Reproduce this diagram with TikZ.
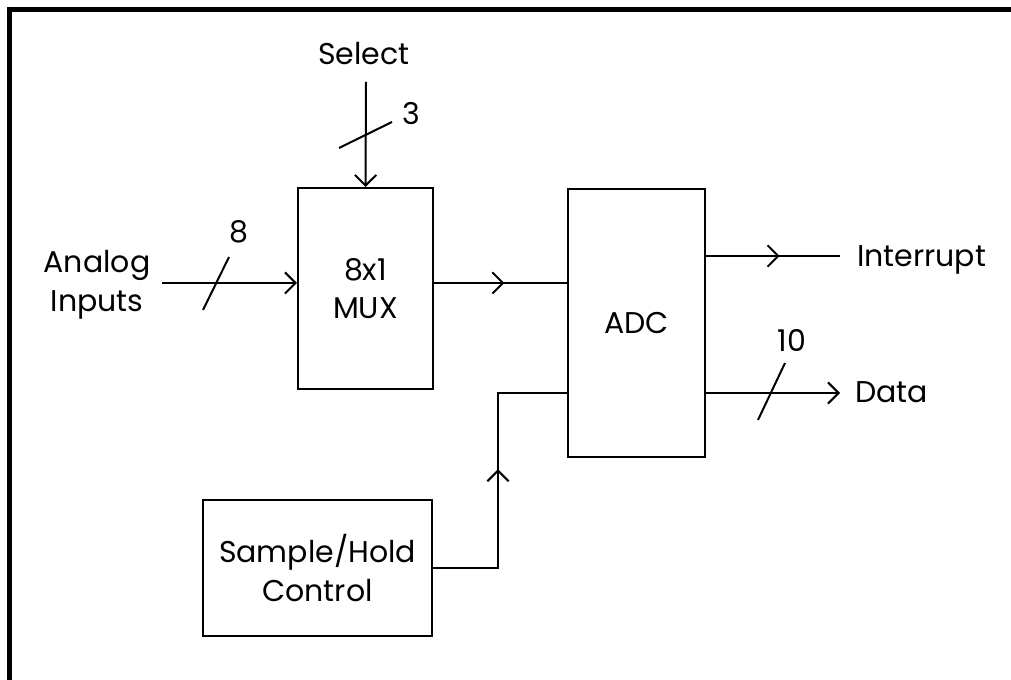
\documentclass[tikz,border=0pt]{standalone}
\usepackage{fontspec}
\setmainfont{Poppins}
\usetikzlibrary{arrows.meta,decorations.markings}

\begin{document}
\begin{tikzpicture}[
  x=0.75pt, y=-0.75pt,
  every node/.style={font=\fontsize{22.5}{29}\selectfont, inner sep=0pt, align=center},
  box/.style={draw, line width=1.5pt},
  wire/.style={line width=1.5pt},
  bus/.style={line width=1.5pt},
  >={Straight Barb[length=8pt, width=16pt]},
  mid arrow/.style={postaction={decorate},
    decoration={markings, mark=at position #1 with {\arrow{>}}}}
]
\useasboundingbox (0,0) rectangle (1011,680);

% frame
\draw[line width=3.75pt] (9.5,680) -- (9.5,9.5) -- (1011,9.5);

% blocks
\node[box, minimum width=101.25pt, minimum height=150.75pt] (mux) at (365.5,288.5) {8x1\\MUX};
\node[box, minimum width=102.75pt, minimum height=201pt] (adc) at (636.5,323) {ADC};
\node[box, minimum width=171.75pt, minimum height=102pt] (sh) at (317.5,568) {Sample/Hold\\Control};

% signal names
\node[anchor=base] (sel) at (364,65) {Select};
\node (ain) at (97,285) {Analog\\Inputs};
\node[anchor=base west] (irq) at (857,267) {Interrupt};
\node[anchor=base west] (data) at (855,403) {Data};

% line ends
\coordinate (selin) at (366,82);
\coordinate (ainout) at (162,283);
\coordinate (irqend) at (840,256);
\coordinate (dataend) at (840,393);
\coordinate (shup) at (498,393);

% connections
\draw[wire,->] (selin) -- (mux.north);
\draw[wire,->] (ainout) -- (ainout -| mux.west);
\draw[wire,mid arrow=0.53] (ainout -| mux.east) -- (ainout -| adc.west);
\draw[wire,mid arrow=0.55] (irqend -| adc.east) -- (irqend);
\draw[wire,->] (dataend -| adc.east) -- (dataend);
\draw[wire,mid arrow=0.53] (sh.east) -| (shup) -- (shup -| adc.west);

% bus widths
\draw[bus] (339,148) -- (392,122);
\node[anchor=base] (n3) at (411,125) {3};
\draw[bus] (203,310) -- (229,257);
\node[anchor=base] (n8) at (239,243) {8};
\draw[bus] (758,420) -- (785,363);
\node[anchor=base] (n10) at (792,352) {10};

\end{tikzpicture}
\end{document}
